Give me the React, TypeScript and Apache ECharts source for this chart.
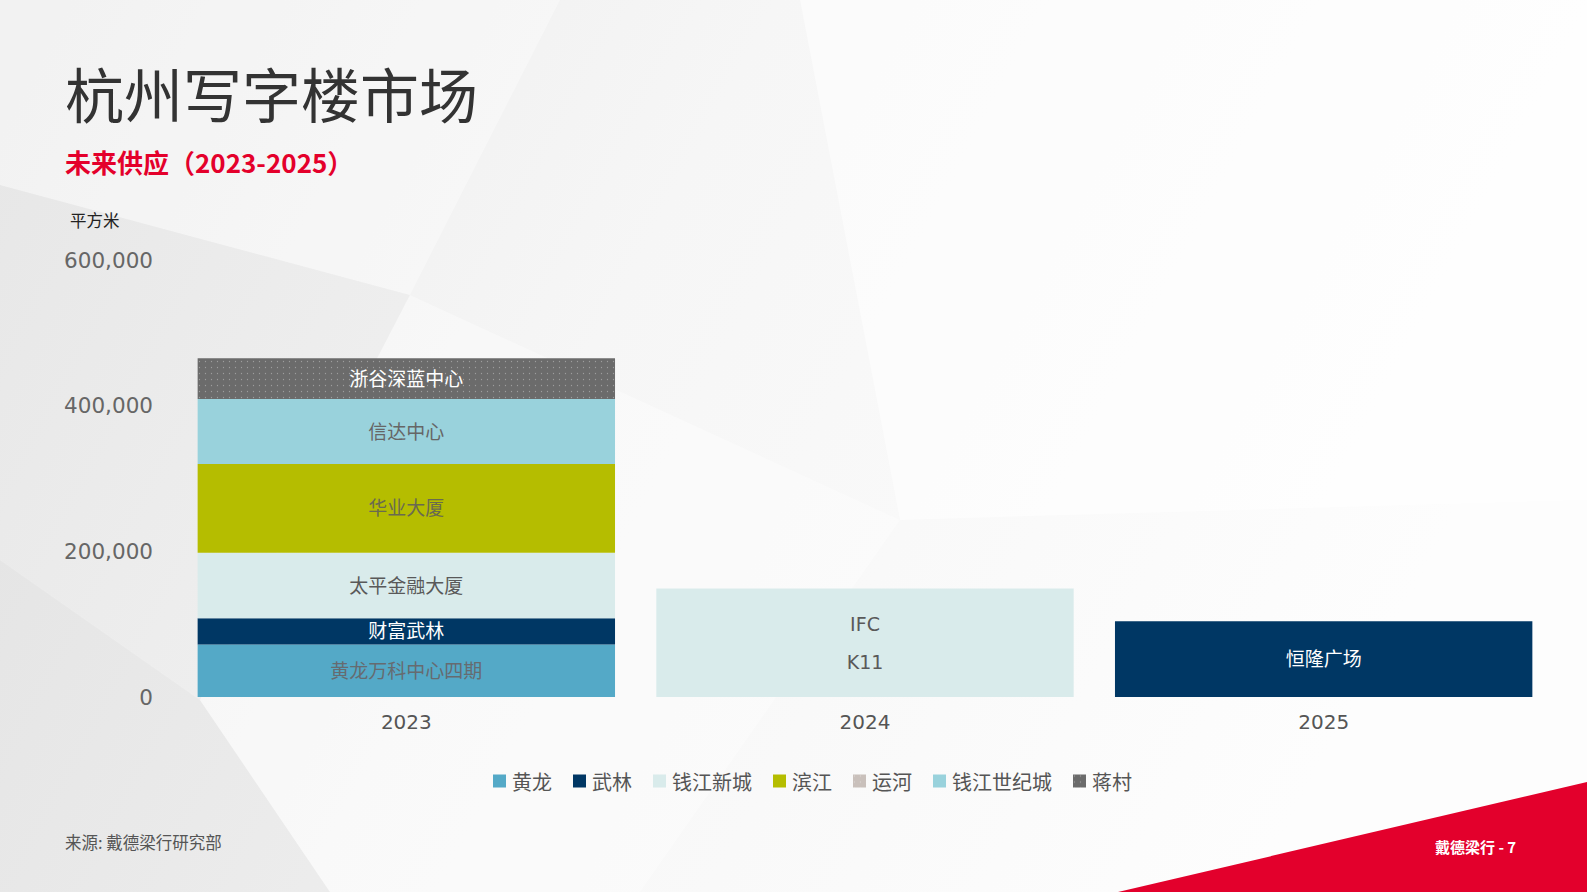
import React, { useEffect, useRef } from "react";
import * as echarts from "echarts";

const years = ["2023", "2024", "2025"];
const districts = ["黄龙", "武林", "钱江新城", "滨江", "运河", "钱江世纪城", "蒋村"];

// supply in sq m per district per year
const huanglong = [72000, null, null];
const wulin = [36000, null, 104000];
const qianjiangNewCity = [90000, 149000, null];
const binjiang = [122000, null, null];
const yunhe = [null, null, null];
const qianjiangCentury = [89000, null, null];
const jiangcun = [56000, null, null];

// project names per district per year
const huanglongProjects = ["黄龙万科中心四期", "", ""];
const wulinProjects = ["财富武林", "", "恒隆广场"];
const qianjiangNewCityProjects = ["太平金融大厦", "IFC\nK11", ""];
const binjiangProjects = ["华业大厦", "", ""];
const yunheProjects = ["", "", ""];
const qianjiangCenturyProjects = ["信达中心", "", ""];
const jiangcunProjects = ["浙谷深蓝中心", "", ""];

const yTicks = [0, 200000, 400000, 600000];

const colors = ["#54a9c7", "#003764", "#d9ebeb", "#b5bd00", "#c9c0bb", "#99d2dc", "#6b6b6b"];
const labelColors = ["#666b70", "#ffffff", "#595959", "#6a6a50", "#666666", "#666666", "#ffffff"];

const values = [huanglong, wulin, qianjiangNewCity, binjiang, yunhe, qianjiangCentury, jiangcun];
const projects = [
  huanglongProjects,
  wulinProjects,
  qianjiangNewCityProjects,
  binjiangProjects,
  yunheProjects,
  qianjiangCenturyProjects,
  jiangcunProjects,
];

const CJK = "'Noto Sans CJK SC', sans-serif";
const LAT = "'DejaVu Sans', 'Noto Sans CJK SC', sans-serif";

export default function App() {
  const ref = useRef<HTMLDivElement>(null);
  useEffect(() => {
    if (!ref.current) return;
    const chart = echarts.init(ref.current, null, { renderer: "svg" });
    const dotDecal = {
      symbol: "circle",
      symbolSize: 0.4,
      color: "rgba(255,255,255,0.35)",
      dashArrayX: 3,
      dashArrayY: 3,
      rotation: 0,
    };
    const series = districts.map((name, i) => ({
      name,
      type: "bar",
      stack: "supply",
      barCategoryGap: "9%",
      data: values[i].map((v) => (v === null ? "-" : v)),
      itemStyle: {
        color: colors[i],
        ...(i === 4 || i === 6 ? { decal: dotDecal } : {}),
      },
      label: {
        show: true,
        position: "inside",
        formatter: (p: any) => projects[i][p.dataIndex] || "",
        color: labelColors[i],
        fontSize: 19,
        fontFamily: LAT,
        lineHeight: 38,
      },
    }));

    chart.setOption({
      animation: false,
      backgroundColor: "#f7f7f7",
      grid: { left: 177, right: 34, top: 260, bottom: 195, outerBoundsMode: "none" },
      xAxis: {
        type: "category",
        data: years,
        axisLine: { show: false },
        axisTick: { show: false },
        axisLabel: { fontSize: 20, color: "#555", fontFamily: LAT, margin: 15 },
      },
      yAxis: {
        type: "value",
        min: yTicks[0],
        max: yTicks[yTicks.length - 1],
        interval: yTicks[1] - yTicks[0],
        splitLine: { show: false },
        axisLine: { show: false },
        axisTick: { show: false },
        axisLabel: {
          fontSize: 21.5,
          color: "#666",
          fontFamily: LAT,
          margin: 24,
          formatter: (v: number) => v.toLocaleString("en-US"),
        },
      },
      legend: {
        data: districts,
        left: 488,
        top: 766,
        itemWidth: 13,
        itemHeight: 13,
        itemGap: 21,
        icon: "rect",
        textStyle: { fontSize: 20, color: "#555", fontFamily: CJK, padding: [0, 0, 0, 1] },
      },
      graphic: [
        {
          type: "rect",
          silent: true,
          z: -10,
          shape: { x: 0, y: 0, width: 1587, height: 892 },
          style: {
            fill: new echarts.graphic.LinearGradient(0, 0, 1, 0.3, [
              { offset: 0, color: "#ebebeb" },
              { offset: 0.45, color: "#f6f6f6" },
              { offset: 1, color: "#fdfdfd" },
            ]),
          },
        },
        {
          type: "polygon",
          silent: true,
          z: -9,
          shape: { points: [[0, 0], [560, 0], [410, 295], [0, 185]] },
          style: { fill: "rgba(255,255,255,0.35)" },
        },
        {
          type: "polygon",
          silent: true,
          z: -9,
          shape: { points: [[0, 185], [410, 295], [200, 700], [0, 560]] },
          style: { fill: "rgba(0,0,0,0.02)" },
        },
        {
          type: "polygon",
          silent: true,
          z: -9,
          shape: { points: [[0, 560], [200, 700], [330, 892], [0, 892]] },
          style: { fill: "rgba(0,0,0,0.04)" },
        },
        {
          type: "polygon",
          silent: true,
          z: -9,
          shape: { points: [[410, 295], [900, 520], [640, 892], [330, 892], [200, 700]] },
          style: { fill: "rgba(255,255,255,0.35)" },
        },
        {
          type: "polygon",
          silent: true,
          z: -9,
          shape: { points: [[800, 0], [1587, 0], [1587, 500], [900, 520]] },
          style: { fill: "rgba(255,255,255,0.5)" },
        },
        {
          type: "text",
          left: 65,
          top: 63,
          style: { text: "杭州写字楼市场", fontSize: 59, fill: "#333", fontFamily: CJK },
        },
        {
          type: "text",
          left: 65,
          top: 148,
          style: {
            text: "未来供应（2023-2025）",
            fontSize: 26,
            fontWeight: "bold",
            fill: "#e4002b",
            fontFamily: CJK,
          },
        },
        {
          type: "text",
          left: 70,
          top: 212,
          style: { text: "平方米", fontSize: 16.5, fill: "#222", fontFamily: CJK },
        },
        {
          type: "text",
          left: 65,
          top: 834,
          style: { text: "来源: 戴德梁行研究部", fontSize: 16.5, fill: "#555", fontFamily: CJK },
        },
        {
          type: "polygon",
          silent: true,
          shape: { points: [[1118, 892], [1587, 782], [1587, 892]] },
          style: { fill: "#e3002c" },
        },
        {
          type: "text",
          left: 1435,
          top: 839,
          style: {
            text: "戴德梁行 - 7",
            fontSize: 15,
            fontWeight: "bold",
            fill: "#ffffff",
            fontFamily: CJK,
          },
        },
      ],
      series,
    });
    return () => chart.dispose();
  }, []);
  return (
    <div
      ref={ref}
      style={{ position: "fixed", left: 0, top: 0, width: 1587, height: 892 }}
    />
  );
}
